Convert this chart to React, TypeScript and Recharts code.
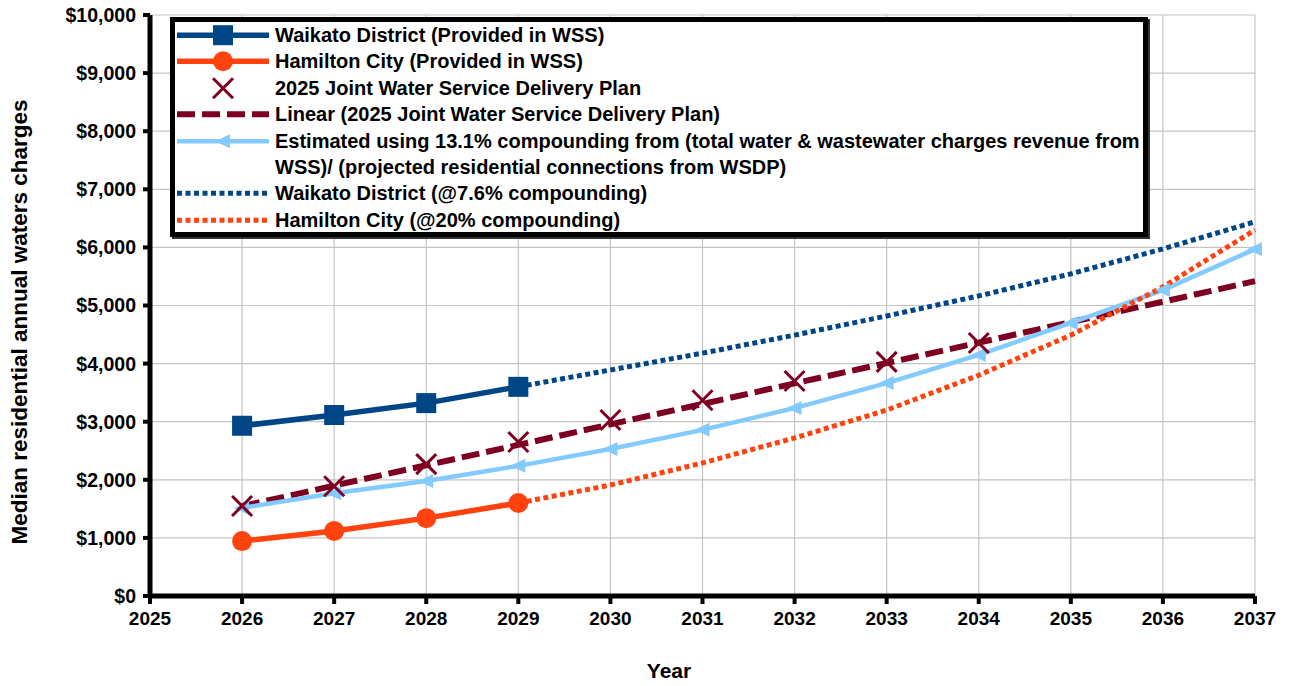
import { LineChart, Line, XAxis, YAxis, CartesianGrid, Legend } from 'recharts';

// values
const years = [2026, 2027, 2028, 2029, 2030, 2031, 2032, 2033, 2034, 2035, 2036, 2037];
const xTicks = [2025, 2026, 2027, 2028, 2029, 2030, 2031, 2032, 2033, 2034, 2035, 2036, 2037];
const yTicks = [0, 1000, 2000, 3000, 4000, 5000, 6000, 7000, 8000, 9000, 10000];

// 2026-2029
const waikatoWss = [2930, 3115, 3320, 3600];
const hamiltonWss = [945, 1120, 1340, 1600];
// 2026-2034
const jointPlan = [1550, 1890, 2270, 2650, 3030, 3370, 3700, 4030, 4355];
// 2026-2037
const jointPlanLinear = [1545, 1900, 2250, 2600, 2955, 3305, 3660, 4010, 4360, 4715, 5065, 5420];
const estimated131 = [1515, 1770, 1980, 2240, 2530, 2860, 3235, 3665, 4150, 4700, 5265, 5970];
// 2029-2037
const waikato76 = [3600, 3890, 4180, 4490, 4820, 5165, 5545, 5975, 6440];
const hamilton20 = [1600, 1910, 2290, 2720, 3200, 3800, 4490, 5320, 6300];

const legendLabels = [
  'Waikato District (Provided in WSS)',
  'Hamilton City (Provided in WSS)',
  '2025 Joint Water Service Delivery Plan',
  'Linear (2025 Joint Water Service Delivery Plan)',
  'Estimated using 13.1% compounding from (total water & wastewater charges revenue from\nWSS)/ (projected residential connections from WSDP)',
  'Waikato District (@7.6% compounding)',
  'Hamilton City (@20% compounding)',
];

const at = (arr: number[], start: number, year: number) => {
  const v = arr[year - start];
  return v === undefined ? null : v;
};

const data = years.map((year) => ({
  year,
  waikatoWss: at(waikatoWss, 2026, year),
  hamiltonWss: at(hamiltonWss, 2026, year),
  jointPlan: at(jointPlan, 2026, year),
  jointPlanLinear: at(jointPlanLinear, 2026, year),
  estimated131: at(estimated131, 2026, year),
  waikato76: at(waikato76, 2029, year),
  hamilton20: at(hamilton20, 2029, year),
}));

const BLUE = '#004586';
const ORANGE = '#ff420e';
const MAROON = '#7e0021';
const SKY = '#83caff';
const FONT = '"Liberation Sans", Arial, sans-serif';

const SquareMark = ({ cx, cy }: { cx: number; cy: number }) => (
  <rect x={cx - 10} y={cy - 10} width={20} height={20} fill={BLUE} />
);
const CircleMark = ({ cx, cy }: { cx: number; cy: number }) => (
  <circle cx={cx} cy={cy} r={10} fill={ORANGE} />
);
const CrossMark = ({ cx, cy }: { cx: number; cy: number }) => (
  <g stroke={MAROON} strokeWidth={3}>
    <line x1={cx - 10} y1={cy - 10} x2={cx + 10} y2={cy + 10} />
    <line x1={cx - 10} y1={cy + 10} x2={cx + 10} y2={cy - 10} />
  </g>
);
const TriangleMark = ({ cx, cy }: { cx: number; cy: number }) => (
  <polygon points={`${cx - 8},${cy} ${cx + 7},${cy - 7} ${cx + 7},${cy + 7}`} fill={SKY} />
);

function dotOf(Mark: any) {
  return (props: any) => {
    const { cx, cy, index, payload } = props;
    if (cx == null || cy == null || props.value == null) return <g key={`e-${index}`} />;
    return (
      <g key={`m-${index}-${payload?.year}`}>
        <Mark cx={cx} cy={cy} />
      </g>
    );
  };
}

const legendSamples = [
  { color: BLUE, width: 5.5, dash: undefined, Mark: SquareMark },
  { color: ORANGE, width: 5.5, dash: undefined, Mark: CircleMark },
  { color: 'none', width: 0, dash: undefined, Mark: CrossMark },
  { color: MAROON, width: 6, dash: '18 7', Mark: null },
  { color: SKY, width: 4.5, dash: undefined, Mark: TriangleMark },
  { color: BLUE, width: 5, dash: '5 3.5', Mark: null },
  { color: ORANGE, width: 5, dash: '5 3.5', Mark: null },
];

const ROW = 26.4;

function LegendBox() {
  return (
    <div
      style={{
        border: '5px solid #000',
        boxShadow: '2px 2px 0 #333',
        background: '#fff',
        padding: '0 0 0 2px',
        fontFamily: FONT,
        fontWeight: 700,
        fontSize: 20,
        color: '#000',
        boxSizing: 'border-box',
        width: 978,
        height: 220,
      }}
    >
      {legendLabels.map((label, i) => {
        const s = legendSamples[i];
        const M = s.Mark;
        return (
          <div key={i} style={{ display: 'flex', alignItems: 'flex-start' }}>
            <svg width={92} height={ROW} style={{ flex: 'none' }}>
              {s.color !== 'none' && (
                <line x1={0} y1={ROW / 2} x2={92} y2={ROW / 2} stroke={s.color} strokeWidth={s.width} strokeDasharray={s.dash} />
              )}
              {M && <M cx={46} cy={ROW / 2} />}
            </svg>
            <div style={{ marginLeft: 6, lineHeight: `${ROW}px`, whiteSpace: 'pre' }}>{label}</div>
          </div>
        );
      })}
    </div>
  );
}

const money = (v: number) => `$${v.toLocaleString('en-US')}`;

export default function App() {
  return (
    <div style={{ position: 'absolute', left: 0, top: 0, background: '#fff' }}>
      <LineChart width={1290} height={686} data={data} margin={{ top: 15, right: 35, left: 0, bottom: 0 }}>
        <CartesianGrid stroke="#c4c4c4" strokeWidth={1.2} />
        <XAxis
          dataKey="year"
          type="number"
          domain={[2025, 2037]}
          ticks={xTicks}
          interval={0}
          height={90}
          axisLine={{ stroke: '#000', strokeWidth: 5 }}
          tickLine={{ stroke: '#000', strokeWidth: 4 }}
          tickSize={8}
          tickMargin={8}
          tick={{ fill: '#000', fontFamily: FONT, fontWeight: 700, fontSize: 19 }}
          label={{
            content: () => (
              <text x={669} y={678} textAnchor="middle" fontFamily={FONT} fontWeight={700} fontSize={21} fill="#000">
                Year
              </text>
            ),
          }}
        />
        <YAxis
          type="number"
          domain={[0, 10000]}
          ticks={yTicks}
          interval={0}
          width={150}
          tickFormatter={money}
          axisLine={{ stroke: '#000', strokeWidth: 5 }}
          tickLine={{ stroke: '#000', strokeWidth: 4 }}
          tickSize={7}
          tickMargin={7}
          tick={{ fill: '#000', fontFamily: FONT, fontWeight: 700, fontSize: 19.5 }}
          label={{
            content: () => (
              <text
                x={27}
                y={322}
                transform="rotate(-90 27 322)"
                textAnchor="middle"
                fontFamily={FONT}
                fontWeight={700}
                fontSize={22.5}
                fill="#000"
              >
                Median residential annual waters charges
              </text>
            ),
          }}
        />
        <Legend
          layout="vertical"
          align="center"
          verticalAlign="middle"
          content={() => <LegendBox />}
          wrapperStyle={{ left: 170, top: 17, width: 978, height: 220 }}
        />
        <Line dataKey="jointPlanLinear" name={legendLabels[3]} stroke={MAROON} strokeWidth={6} strokeDasharray="18 7" dot={false} isAnimationActive={false} />
        <Line dataKey="estimated131" name={legendLabels[4]} stroke={SKY} strokeWidth={4.5} dot={dotOf(TriangleMark)} isAnimationActive={false} />
        <Line dataKey="waikato76" name={legendLabels[5]} stroke={BLUE} strokeWidth={5} strokeDasharray="5 3.5" dot={false} isAnimationActive={false} />
        <Line dataKey="hamilton20" name={legendLabels[6]} stroke={ORANGE} strokeWidth={5} strokeDasharray="5 3.5" dot={false} isAnimationActive={false} />
        <Line dataKey="waikatoWss" name={legendLabels[0]} stroke={BLUE} strokeWidth={5.5} dot={dotOf(SquareMark)} isAnimationActive={false} />
        <Line dataKey="hamiltonWss" name={legendLabels[1]} stroke={ORANGE} strokeWidth={5.5} dot={dotOf(CircleMark)} isAnimationActive={false} />
        <Line dataKey="jointPlan" name={legendLabels[2]} stroke="none" strokeWidth={0} dot={dotOf(CrossMark)} isAnimationActive={false} />
      </LineChart>
    </div>
  );
}
